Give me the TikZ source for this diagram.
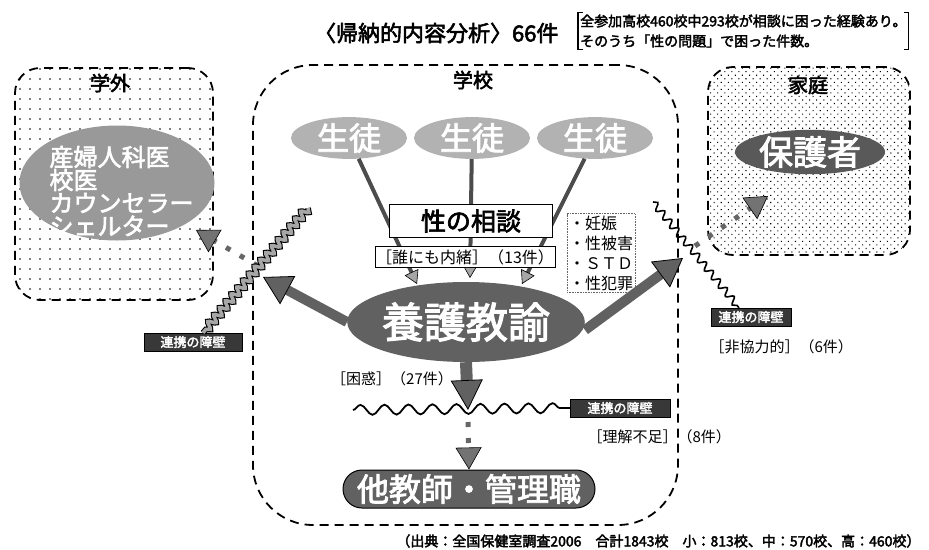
\documentclass[tikz,border=0pt]{standalone}
\usepackage{fontspec}
\newfontfamily\jp{Noto Sans CJK JP}
\newfontfamily\jpb{Noto Sans CJK JP}[FakeBold=2.6]
\usetikzlibrary{shapes.geometric,arrows.meta,decorations.pathmorphing,patterns.meta}
\newcommand\fsz[1]{\fontsize{#1}{#1}\selectfont}
\begin{document}
\begin{tikzpicture}[x=1pt,y=-1pt,
  zone/.style={draw, line width=1.8pt, dash pattern=on 9pt off 6pt, outer sep=0pt, inner sep=0pt},
  zonelabel/.style={font=\jpb\fsz{20}},
  seito/.style={ellipse, fill=black!30, minimum width=116pt, minimum height=40pt, inner sep=0pt, text=white, font=\jpb\fsz{32}},
  feed/.style={line width=4pt, draw=black!70, -{Triangle[length=13pt,width=15pt,fill=black!35,color=black,line width=0.6pt]}},
  bigarrow/.style={line width=10pt, draw=black!62, -{Triangle[length=28pt,width=32pt,fill=black!62,color=black,line width=0.8pt]}},
  downarrow/.style={line width=12pt, draw=black!62, -{Triangle[length=30pt,width=32pt,fill=black!62,color=black,line width=0.8pt]}},
  dotarrow/.style={line width=5pt, draw=black!60, dash pattern=on 5pt off 11pt, -{Triangle[length=22pt,width=26pt,fill=black!55,color=black,line width=0.6pt]}},
  barrier/.style={fill=black!78, draw=black, text=white, font=\jpb\fsz{13}, minimum height=18pt, inner sep=1pt},
  plain/.style={font=\jp\fsz{15}},
  chain/.style={decorate, decoration={snake, amplitude=3.5pt, segment length=9pt}, double=black!35, double distance=3.5pt, line width=1.1pt},
  squiggle/.style={decorate, decoration={snake, amplitude=3.5pt, segment length=11pt}, line width=1.6pt},
  wave/.style={decorate, decoration={snake, amplitude=5pt, segment length=24pt}, line width=1.8pt}
]
\useasboundingbox (0,0) rectangle (929,549);

% title
\node[font=\jpb\fsz{22}, anchor=east] (title) at (562,33) {〈帰納的内容分析〉66件};
\node[anchor=west, align=left, font=\jpb\fontsize{14}{20}\selectfont, inner sep=2pt] (note) at (578,31)
  {全参加高校460校中293校が相談に困った経験あり。\\そのうち「性の問題」で困った件数。};
\draw[line width=1.4pt] ([xshift=5pt]note.north west) -- (note.north west) -- (note.south west) -- ([xshift=5pt]note.south west);
\draw[line width=1.4pt] ([xshift=-5pt]note.north east) -- (note.north east) -- (note.south east) -- ([xshift=-5pt]note.south east);

% zones
\node[zone, rounded corners=60pt, minimum width=425pt, minimum height=460pt] (school) at (465.5,295) {};
\node[zone, rounded corners=25pt, minimum width=198pt, minimum height=232pt,
      pattern={Dots[distance=10pt,radius=0.8pt]}] (outside) at (114,184) {};
\node[zone, rounded corners=25pt, minimum width=202pt, minimum height=188pt,
      pattern={Dots[distance=5pt,radius=0.75pt,angle=45]}] (home) at (809,161) {};
\node[zonelabel] (lOut) at (110,83) {学外};
\node[zonelabel] (lSchool) at (473,80) {学校};
\node[zonelabel] (lHome) at (808,85) {家庭};

% students
\node[seito] (s1) at (349,138) {生徒};
\node[seito] (s2) at (472,138) {生徒};
\node[seito] (s3) at (595,138) {生徒};
\coordinate (t1) at (417,284);
\coordinate (t2) at (470,278);
\coordinate (t3) at (522,284);
\draw[feed] (s1) -- (t1);
\draw[feed] (s2) -- (t2);
\draw[feed] (s3) -- (t3);

\node[draw, fill=white, line width=1pt, minimum width=163pt, minimum height=33pt, inner sep=0pt,
      font=\jpb\fsz{25}] (consult) at (471,221) {性の相談};
\node[draw, fill=white, line width=0.8pt, minimum width=180pt, minimum height=21pt, inner sep=0pt,
      font=\jp\fsz{16}] (secret) at (465,257) {［誰にも内緒］（13件）};
\node[draw=black!60, densely dotted, line width=0.6pt, align=left, inner sep=2pt,
      font=\jp\fontsize{16}{20}\selectfont] (list) at (601,253) {・妊娠\\・性被害\\・ＳＴＤ\\・性犯罪};

% yogo teacher
\node[ellipse, fill=black!62, minimum width=228pt, minimum height=80pt, inner sep=0pt,
      text=white, font=\jpb\fsz{42}] (yogo) at (466,322) {養護教諭};
\coordinate (tL) at (263,277);
\coordinate (tR) at (683,258);
\coordinate (tD) at (468,410);
\draw[bigarrow] (yogo.west) -- (tL);
\draw[bigarrow] ([yshift=-8pt]yogo.east) -- (tR);
\draw[downarrow] (yogo.south) -- (tD);
\node[plain] (konwaku) at (392,379) {［困惑］（27件）};

% barrier inside school
\node[barrier, minimum width=100pt] (bB) at (620,408) {連携の障壁};
\coordinate (wL) at (353,410);
\draw[wave] (wL) -- (bB.west);
\node[plain, anchor=west] (rikai) at (584,437) {［理解不足］（8件）};

% other teachers
\node[draw=black, line width=1pt, fill=black!62, rounded corners=19pt, minimum width=252pt, minimum height=38pt,
      inner sep=0pt, text=white, font=\jpb\fsz{32}] (others) at (469,489) {他教師・管理職};
\coordinate (dS) at (468,422);
\draw[dotarrow] (dS) -- (others.north);

% outside school
\node[ellipse, fill=black!40, minimum width=195pt, minimum height=115pt, inner sep=0pt] (outEll) at (117,183) {};
\node[align=left, text=white, font=\jpb\fontsize{24}{23}\selectfont, anchor=west] (outTxt) at (46,191)
  {産婦人科医\\校医\\カウンセラー\\シェルター};
\coordinate (gS) at (258,266);
\coordinate (gT) at (196,230);
\draw[dotarrow] (gS) -- (gT);

% home
\node[ellipse, fill=black!65, minimum width=150pt, minimum height=42pt, inner sep=0pt,
      text=white, font=\jpb\fsz{34}] (parent) at (810,152) {保護者};
\coordinate (kS) at (695,246);
\coordinate (kT) at (768,196);
\draw[dotarrow] (kS) -- (kT);

% barriers
\node[barrier, minimum width=98pt] (bL) at (193,342) {連携の障壁};
\node[plain, anchor=west] (hikyo) at (706,347) {［非協力的］（6件）};
\node[barrier, minimum width=80pt] (bR) at (751,317) {連携の障壁};
\coordinate (cL) at (308,208);
\draw[chain] (cL) -- ([xshift=10pt]bL.north);
\coordinate (cR) at (653,202);
\draw[squiggle] (cR) -- ([xshift=-12pt]bR.north);

% footnote
\node[font=\jpb\fsz{14}, anchor=east] (source) at (924,541)
  {（出典：全国保健室調査2006　合計1843校　小：813校、中：570校、高：460校）};
\end{tikzpicture}
\end{document}
